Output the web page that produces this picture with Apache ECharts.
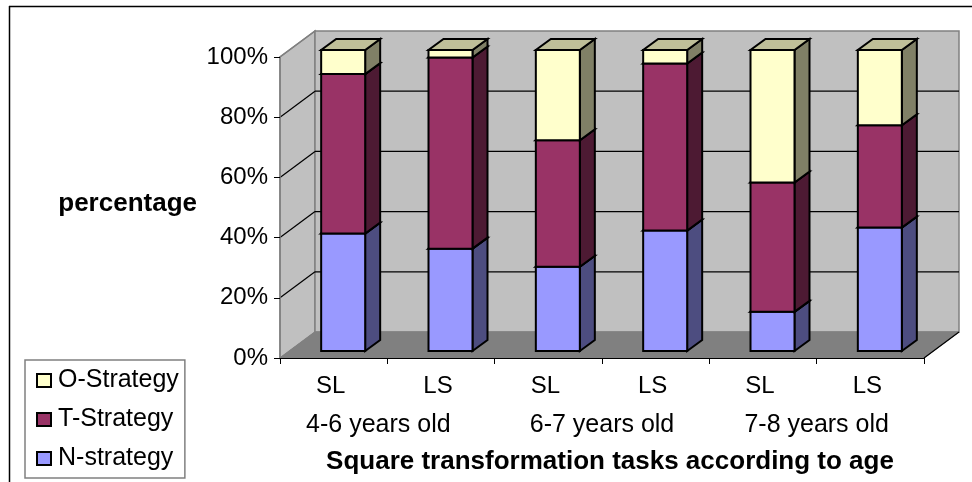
<!DOCTYPE html>
<html><head><meta charset="utf-8">
<style>html,body{margin:0;padding:0;background:#fff}#c{width:972px;height:482px}</style>
<script src="https://cdn.jsdelivr.net/npm/echarts@6/dist/echarts.min.js"></script>
</head><body><div id="c"></div>
<script>
var tasks = ['SL','LS','SL','LS','SL','LS'];
var ages = ['4-6 years old','6-7 years old','7-8 years old'];
var nStrategy = [39,34,28,40,13,41];
var tStrategy = [53,63.5,42,55.5,43,34];
var oStrategy = [8,2.5,30,4.5,44,25];
var gridValues = [20,40,60,80,100];
var FONT = '"Liberation Sans", Arial, sans-serif';

var wallDX = 35, wallDY = -26;
var barDX = 9.5, barDY = -7, barW = 44, sideDX = 15, sideDY = -11;

var chart = echarts.init(document.getElementById('c'), null, {renderer:'canvas'});

function poly(pts, fill, stroke, lw){
  return {type:'polygon', shape:{points:pts}, style:{fill:fill, stroke:stroke||'#000', lineWidth:lw==null?2:lw, lineJoin:'miter'}};
}
function line(a, b, color, lw){
  return {type:'line', shape:{x1:a[0],y1:a[1],x2:b[0],y2:b[1]}, style:{stroke:color, lineWidth:lw||1, fill:null}};
}

function renderWalls(params, api){
  if (params.dataIndex !== 0) return;
  var cs = params.coordSys;
  var L = cs.x, R = cs.x + cs.width;
  var y0 = api.coord([0,0])[1], y1 = api.coord([0,100])[1];
  var kids = [];
  kids.push(poly([[L,y0],[L,y1],[L+wallDX,y1+wallDY],[L+wallDX,y0+wallDY]], '#c0c0c0', '#808080', 1.5));
  kids.push(poly([[L+wallDX,y0+wallDY],[L+wallDX,y1+wallDY],[R+wallDX,y1+wallDY],[R+wallDX,y0+wallDY]], '#c0c0c0', '#808080', 1.5));
  kids.push(poly([[L,y0],[R,y0],[R+wallDX,y0+wallDY],[L+wallDX,y0+wallDY]], '#808080', '#808080', 1));
  gridValues.forEach(function(v){
    var y = api.coord([0,v])[1];
    var c = v === 100 ? '#808080' : '#000';
    kids.push(line([L,y],[L+wallDX,y+wallDY], c, 1.2));
    if (v !== 100) kids.push(line([L+wallDX,y+wallDY],[R+wallDX,y+wallDY], '#000', 1.2));
  });
  kids.push(line([R,y0],[R+wallDX,y0+wallDY], '#000', 1.2));
  return {type:'group', children:kids};
}

function barRenderer(base, front, side, top){
  return function(params, api){
    var i = api.value(0), v = api.value(1);
    var b = base[i];
    var c0 = api.coord([i,b]), c1 = api.coord([i,b+v]);
    var x0 = c0[0] + barDX - barW/2, x1 = x0 + barW;
    var yb = c0[1] + barDY, yt = c1[1] + barDY;
    return {type:'group', children:[
      poly([[x1,yb],[x1+sideDX,yb+sideDY],[x1+sideDX,yt+sideDY],[x1,yt]], side),
      poly([[x0,yt],[x1,yt],[x1+sideDX,yt+sideDY],[x0+sideDX,yt+sideDY]], top),
      poly([[x0,yb],[x1,yb],[x1,yt],[x0,yt]], front)
    ]};
  };
}
function pairs(arr){ return arr.map(function(v,i){ return [i,v]; }); }

var baseT = nStrategy.slice();
var baseN = nStrategy.map(function(){ return 0; });
var baseO = nStrategy.map(function(v,i){ return v + tStrategy[i]; });

function barSeries(name, arr, base, front, side, top){
  return {name:name, type:'custom', z:3, data:pairs(arr), encode:{x:0,y:1},
    itemStyle:{color:front, borderColor:'#000', borderWidth:1.5},
    renderItem:barRenderer(base, front, side, top)};
}

chart.setOption({
  animation:false,
  backgroundColor:'#fff',
  textStyle:{fontFamily:FONT},
  grid:{left:280, right:48, top:57, bottom:124, containLabel:false},
  legend:{
    orient:'vertical', left:25, top:360,
    padding:[8,6,7,11], itemGap:14, itemWidth:14, itemHeight:13,
    backgroundColor:'#fff', borderColor:'#808080', borderWidth:1.5, borderRadius:0,
    icon:'rect',
    data:['O-Strategy','T-Strategy','N-strategy'],
    textStyle:{fontFamily:FONT, fontSize:25, color:'#000', padding:[0,0,0,2]}
  },
  xAxis:[
    {type:'category', data:tasks, gridIndex:0, z:5,
     axisLine:{onZero:false, lineStyle:{color:'#000', width:1}},
     axisTick:{show:true, alignWithLabel:false, length:6, lineStyle:{color:'#000'}},
     axisLabel:{fontFamily:FONT, fontSize:24, color:'#000', margin:16, padding:[0,6,0,0]}},
    {type:'category', gridIndex:0, position:'bottom', offset:38, z:5,
     data:[{value:ages[0], textStyle:{padding:[0,18,0,0]}}, ages[1], ages[2]],
     axisLine:{show:false}, axisTick:{show:false},
     axisLabel:{fontFamily:FONT, fontSize:25, color:'#000', margin:17},
     name:'Square transformation tasks according to age', nameLocation:'middle', nameGap:53,
     nameTextStyle:{fontFamily:FONT, fontSize:26, fontWeight:'bold', color:'#000', padding:[0,0,0,16]}}
  ],
  yAxis:{type:'value', min:0, max:100, interval:20, z:5,
    axisLine:{show:true, onZero:false, lineStyle:{color:'#808080', width:1.5}},
    axisTick:{show:true, length:6, lineStyle:{color:'#000'}},
    splitLine:{show:false},
    axisLabel:{fontFamily:FONT, fontSize:24, color:'#000', margin:12, formatter:'{value}%'},
    name:'percentage', nameLocation:'middle', nameRotate:0, nameGap:83,
    nameTextStyle:{fontFamily:FONT, fontSize:26, fontWeight:'bold', color:'#000', align:'right', verticalAlign:'bottom', lineHeight:7}
  },
  graphic:[
    {type:'line', silent:true, z:10, shape:{x1:9,y1:6.5,x2:972,y2:6.5}, style:{stroke:'#000',lineWidth:1.5}},
    {type:'line', silent:true, z:10, shape:{x1:9.5,y1:6,x2:9.5,y2:482}, style:{stroke:'#000',lineWidth:1.5}}
  ],
  series:[
    {name:'walls', type:'custom', z:1, silent:true, data:[[0,0]], encode:{x:0,y:1}, clip:false, renderItem:renderWalls},
    barSeries('N-strategy', nStrategy, baseN, '#9999ff', '#4d4d80', '#7a7acc'),
    barSeries('T-Strategy', tStrategy, baseT, '#993366', '#4d1a33', '#7a2952'),
    barSeries('O-Strategy', oStrategy, baseO, '#ffffcc', '#808066', '#bfbf99')
  ]
});
</script></body></html>
